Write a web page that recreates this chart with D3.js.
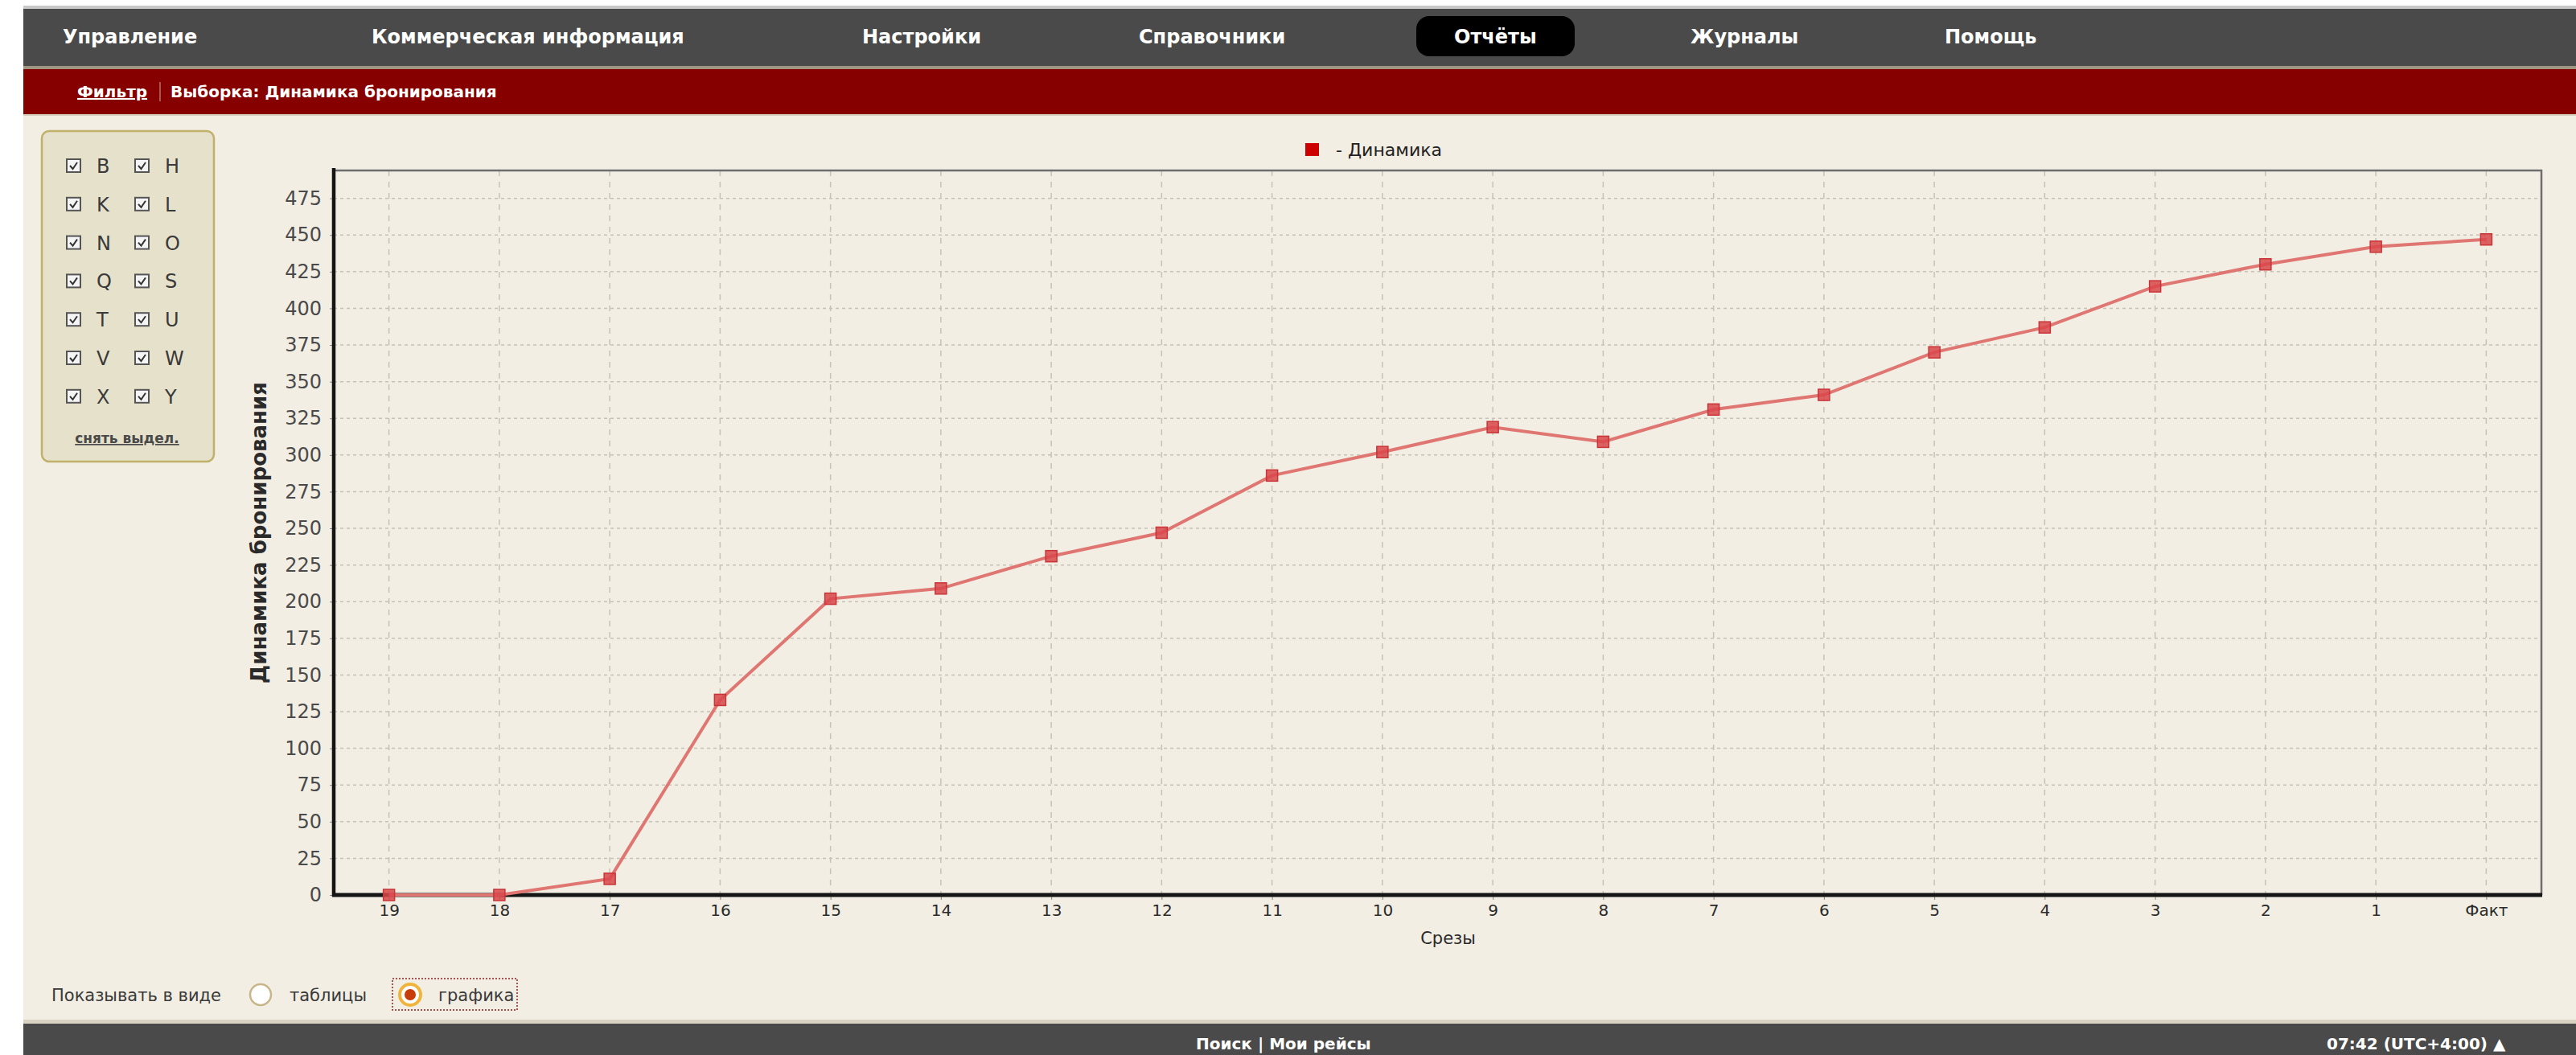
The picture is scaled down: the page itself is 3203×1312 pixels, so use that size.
<!DOCTYPE html>
<html>
<head>
    <meta charset="UTF-8">
    <title>Динамика бронирования</title>
    <script src="https://d3js.org/d3.v7.min.js"></script>
    <style>
        body {
            margin: 0;
            background: #fff;
            overflow: hidden;
            font-family: "DejaVu Sans", sans-serif;
        }
        svg text { font-family: "DejaVu Sans", sans-serif; }
        .nav { fill: #fff; font-weight: bold; font-size: 24px; }
        .grid line { stroke: #c6c2b6; stroke-width: 1.5; }
        .y-axis text { font-size: 24px; fill: #4a4a4a; }
        .x-axis text { font-size: 20px; fill: #2a2a2a; }
        .tick line { stroke: #888; }
    </style>
</head>
<body>
<div id="page"></div>
<script>
    // chart data
    const categories = ["19", "18", "17", "16", "15", "14", "13", "12", "11", "10",
                        "9", "8", "7", "6", "5", "4", "3", "2", "1", "Факт"];
    const values = [0, 0, 11, 133, 202, 209, 231, 247, 286, 302,
                    319, 309, 331, 341, 370, 387, 415, 430, 442, 447];
    const yTicks = [0, 25, 50, 75, 100, 125, 150, 175, 200, 225, 250,
                    275, 300, 325, 350, 375, 400, 425, 450, 475];
    const seriesName = "Динамика";

    // page chrome
    const menuItems = ["Управление", "Коммерческая информация", "Настройки", "Справочники",
                       "Отчёты", "Журналы", "Помощь"];
    const menuX = [78, 462, 1072, 1416, 1808, 2102, 2418];
    const filterLetters = [["B", "H"], ["K", "L"], ["N", "O"], ["Q", "S"],
                           ["T", "U"], ["V", "W"], ["X", "Y"]];

    const W = 3203, H = 1312;
    const svg = d3.select("#page").append("svg")
        .attr("width", W).attr("height", H);

    // background
    svg.append("rect").attr("x", 29).attr("y", 0).attr("width", W - 29).attr("height", H)
        .attr("fill", "#f2eee3");
    svg.append("rect").attr("x", 0).attr("y", 0).attr("width", W).attr("height", 8).attr("fill", "#fff");
    svg.append("rect").attr("x", 29).attr("y", 7).attr("width", W - 29).attr("height", 4).attr("fill", "#c8c8c8");

    // top menu bar
    svg.append("rect").attr("x", 29).attr("y", 11).attr("width", W - 29).attr("height", 72)
        .attr("fill", "#4a4a4a");
    svg.append("rect").attr("x", 29).attr("y", 82).attr("width", W - 29).attr("height", 4)
        .attr("fill", "#9e9683");
    svg.append("rect").attr("x", 1761).attr("y", 20).attr("width", 197).attr("height", 50)
        .attr("rx", 16).attr("fill", "#000");
    svg.selectAll("text.nav").data(menuItems).join("text")
        .attr("class", "nav")
        .attr("x", (d, i) => menuX[i])
        .attr("y", 54)
        .text(d => d);

    // red sub bar
    svg.append("rect").attr("x", 29).attr("y", 86).attr("width", W - 29).attr("height", 56)
        .attr("fill", "#870000");
    svg.append("rect").attr("x", 29).attr("y", 142).attr("width", W - 29).attr("height", 2)
        .attr("fill", "#d6cfc0");
    svg.append("text").attr("x", 96).attr("y", 121)
        .attr("fill", "#fff").attr("font-weight", "bold").attr("font-size", 20)
        .attr("text-decoration", "underline").text("Фильтр");
    svg.append("line").attr("x1", 199).attr("x2", 199).attr("y1", 102).attr("y2", 126)
        .attr("stroke", "#b87070").attr("stroke-width", 1.5);
    svg.append("text").attr("x", 212).attr("y", 121)
        .attr("fill", "#fff").attr("font-weight", "bold").attr("font-size", 20)
        .text("Выборка:  Динамика бронирования");

    // filter panel
    const panel = svg.append("g");
    panel.append("rect").attr("x", 52).attr("y", 163).attr("width", 214).attr("height", 411)
        .attr("rx", 9).attr("fill", "#e6e1ca").attr("stroke", "#bfb06a").attr("stroke-width", 2.5);
    filterLetters.forEach((row, r) => {
        row.forEach((letter, c) => {
            const cx = 83 + c * 85, cy = 206 + r * 47.8;
            panel.append("rect").attr("x", cx).attr("y", cy - 8).attr("width", 17).attr("height", 16)
                .attr("fill", "#f4f4f4").attr("stroke", "#555").attr("stroke-width", 2);
            panel.append("path")
                .attr("d", `M${cx + 4},${cy} L${cx + 7.5},${cy + 4} L${cx + 13},${cy - 4}`)
                .attr("fill", "none").attr("stroke", "#333").attr("stroke-width", 2);
            panel.append("text").attr("x", cx + 37).attr("y", cy + 9)
                .attr("font-size", 24).attr("fill", "#3a3a3a").text(letter);
        });
    });
    panel.append("text").attr("x", 158).attr("y", 551).attr("text-anchor", "middle")
        .attr("font-size", 17).attr("font-weight", "bold").attr("fill", "#4a4a4a")
        .attr("text-decoration", "underline").text("снять выдел.");

    // chart
    const plot = {left: 415, right: 3160, top: 212, bottom: 1113};

    const x = d3.scalePoint()
        .domain(categories)
        .range([plot.left, plot.right])
        .padding(0.5);

    const y = d3.scaleLinear()
        .domain([0, 494])
        .range([plot.bottom, plot.top]);

    // grid
    const grid = svg.append("g").attr("class", "grid");
    grid.selectAll("line.h").data(yTicks.filter(d => d > 0)).join("line")
        .attr("class", "h")
        .attr("x1", plot.left).attr("x2", plot.right)
        .attr("y1", d => y(d)).attr("y2", d => y(d))
        .attr("stroke-dasharray", "4,4");
    grid.selectAll("line.v").data(categories).join("line")
        .attr("class", "v")
        .attr("x1", d => x(d)).attr("x2", d => x(d))
        .attr("y1", plot.top).attr("y2", plot.bottom)
        .attr("stroke-dasharray", "7,7");

    // plot frame (top and right)
    svg.append("path")
        .attr("d", `M${plot.left},${plot.top} H${plot.right} V${plot.bottom}`)
        .attr("fill", "none").attr("stroke", "#6e6e6e").attr("stroke-width", 2.5);

    // axes
    const yAxis = svg.append("g").attr("class", "y-axis")
        .attr("transform", `translate(${plot.left},0)`)
        .call(d3.axisLeft(y).tickValues(yTicks).tickSize(5).tickSizeOuter(0).tickPadding(10));
    yAxis.select(".domain").remove();

    const xAxis = svg.append("g").attr("class", "x-axis")
        .attr("transform", `translate(0,${plot.bottom})`)
        .call(d3.axisBottom(x).tickSize(6).tickSizeOuter(0).tickPadding(6));
    xAxis.select(".domain").remove();

    svg.append("line")
        .attr("x1", plot.left).attr("x2", plot.left)
        .attr("y1", plot.top - 3).attr("y2", plot.bottom + 2)
        .attr("stroke", "#151515").attr("stroke-width", 4.5);
    svg.append("line")
        .attr("x1", plot.left - 2).attr("x2", plot.right + 1)
        .attr("y1", plot.bottom).attr("y2", plot.bottom)
        .attr("stroke", "#151515").attr("stroke-width", 5);

    // axis titles
    svg.append("text")
        .attr("transform", `translate(331,${(plot.top + plot.bottom) / 2}) rotate(-90)`)
        .attr("text-anchor", "middle")
        .attr("font-size", 26).attr("font-weight", "bold").attr("fill", "#2a2a2a")
        .text("Динамика бронирования");
    svg.append("text")
        .attr("x", (plot.left + plot.right) / 2 + 13).attr("y", 1174)
        .attr("text-anchor", "middle")
        .attr("font-size", 21).attr("fill", "#2a2a2a")
        .text("Срезы");

    // legend
    svg.append("rect").attr("x", 1623).attr("y", 178).attr("width", 17).attr("height", 16)
        .attr("fill", "#cc0000");
    svg.append("text").attr("x", 1661).attr("y", 194)
        .attr("font-size", 22).attr("fill", "#222")
        .text("- " + seriesName);

    // series
    const points = categories.map((c, i) => ({c, v: values[i]}));
    svg.append("path")
        .datum(points)
        .attr("fill", "none")
        .attr("stroke", "#e07672")
        .attr("stroke-width", 4)
        .attr("d", d3.line().x(d => x(d.c)).y(d => y(d.v)));

    svg.selectAll("rect.marker").data(points).join("rect")
        .attr("class", "marker")
        .attr("x", d => x(d.c) - 7)
        .attr("y", d => y(d.v) - 7)
        .attr("width", 14).attr("height", 14)
        .attr("fill", "#d9474a")
        .attr("fill-opacity", 0.85)
        .attr("stroke", "#c93438")
        .attr("stroke-width", 1.5);

    // view switch
    svg.append("text").attr("x", 64).attr("y", 1245)
        .attr("font-size", 21).attr("fill", "#3a3a3a").text("Показывать в виде");
    svg.append("circle").attr("cx", 324).attr("cy", 1237).attr("r", 13)
        .attr("fill", "#fff").attr("stroke", "#c8b68a").attr("stroke-width", 2.5);
    svg.append("text").attr("x", 360).attr("y", 1245)
        .attr("font-size", 21).attr("fill", "#3a3a3a").text("таблицы");
    svg.append("rect").attr("x", 488).attr("y", 1217).attr("width", 155).attr("height", 39)
        .attr("fill", "none").attr("stroke", "#8b2020").attr("stroke-width", 1.5)
        .attr("stroke-dasharray", "2,2");
    svg.append("circle").attr("cx", 510).attr("cy", 1237).attr("r", 13)
        .attr("fill", "#fff").attr("stroke", "#f0b43c").attr("stroke-width", 4);
    svg.append("circle").attr("cx", 510).attr("cy", 1237).attr("r", 7)
        .attr("fill", "#c83c0a");
    svg.append("text").attr("x", 545).attr("y", 1245)
        .attr("font-size", 21).attr("fill", "#3a3a3a").text("графика");

    // footer
    svg.append("rect").attr("x", 29).attr("y", 1268).attr("width", W - 29).attr("height", 5)
        .attr("fill", "#d8d3c2");
    svg.append("rect").attr("x", 29).attr("y", 1273).attr("width", W - 29).attr("height", 39)
        .attr("fill", "#4a4a4a");
    svg.append("text").attr("x", 1487).attr("y", 1305)
        .attr("font-size", 20).attr("font-weight", "bold").attr("fill", "#fff")
        .text("Поиск  |  Мои рейсы");
    svg.append("text").attr("x", 2893).attr("y", 1305)
        .attr("font-size", 20).attr("font-weight", "bold").attr("fill", "#fff")
        .text("07:42 (UTC+4:00)   ▲");
</script>
</body>
</html>
